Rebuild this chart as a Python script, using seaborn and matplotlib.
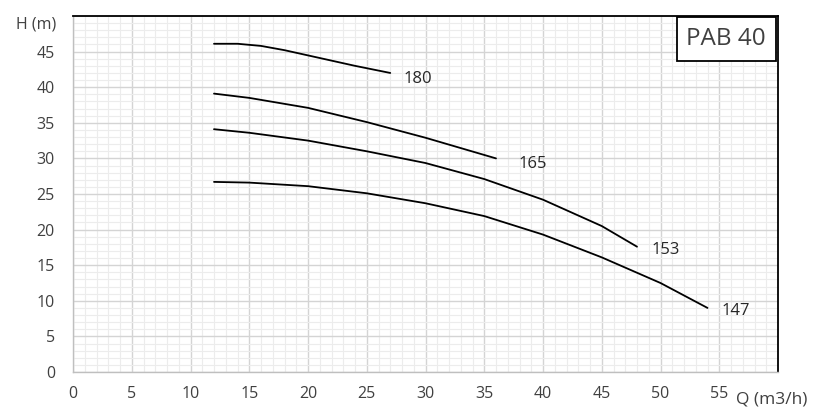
import pandas as pd
import matplotlib.pyplot as plt
import matplotlib.ticker as ticker
import seaborn as sns

# PAB 40 pump curves, H (m) vs Q (m3/h)
q_180 = [12, 14, 16, 18, 21, 24, 27]
h_180 = [46.1, 46.1, 45.8, 45.2, 44.1, 43.0, 42.0]

q_165 = [12, 15, 20, 25, 30, 36]
h_165 = [39.1, 38.5, 37.1, 35.1, 32.9, 30.0]

q_153 = [12, 15, 20, 25, 30, 35, 40, 45, 48]
h_153 = [34.1, 33.6, 32.5, 31.0, 29.35, 27.1, 24.2, 20.5, 17.6]

q_147 = [12, 15, 20, 25, 30, 35, 40, 45, 50, 54]
h_147 = [26.7, 26.6, 26.1, 25.1, 23.7, 21.9, 19.3, 16.1, 12.5, 9.0]

curve_names = ["180", "165", "153", "147"]
# where each curve label sits (Q, H)
label_q = [28.1, 37.9, 49.2, 55.2]
label_h = [41.2, 29.2, 17.2, 8.5]

x_ticks = list(range(0, 56, 5))
y_ticks = list(range(0, 46, 5))

frames = []
for name, q, h in zip(curve_names, [q_180, q_165, q_153, q_147],
                      [h_180, h_165, h_153, h_147]):
    frames.append(pd.DataFrame({"Q": q, "H": h, "curve": name}))
df = pd.concat(frames, ignore_index=True)

sns.set_style("white")
plt.rcParams["font.family"] = ["Open Sans", "DejaVu Sans"]

fig = plt.figure(figsize=(8.17, 4.07), dpi=100)
ax = fig.add_axes([73 / 817, 1 - 372 / 407, 705 / 817, 356 / 407])

sns.lineplot(data=df, x="Q", y="H", hue="curve",
             palette={n: "black" for n in curve_names},
             linewidth=1.3, legend=False, ax=ax, sort=False)

for name, lq, lh in zip(curve_names, label_q, label_h):
    ax.text(lq, lh, name, fontsize=12, color="#262626", ha="left", va="center")

ax.set_xlim(0, 60)
ax.set_ylim(0, 50)
ax.set_xticks(x_ticks)
ax.set_yticks(y_ticks)
ax.xaxis.set_minor_locator(ticker.MultipleLocator(1))
ax.yaxis.set_minor_locator(ticker.MultipleLocator(1))
ax.grid(which="major", color="#d4d4d4", linewidth=1.0)
ax.grid(which="minor", color="#ececec", linewidth=0.8)
ax.set_axisbelow(True)
ax.tick_params(which="both", length=0, labelsize=11.5, labelcolor="#404040")
ax.tick_params(axis="x", pad=10)
ax.tick_params(axis="y", pad=13)
ax.set_xlabel("")
ax.set_ylabel("")

for side in ["top", "right"]:
    ax.spines[side].set_color("black")
    ax.spines[side].set_linewidth(1.3)
for side in ["left", "bottom"]:
    ax.spines[side].set_color("#bfbfbf")
    ax.spines[side].set_linewidth(1.0)

ax.text(-0.024, 0.975, "H (m)", transform=ax.transAxes, ha="right",
        va="center", fontsize=11.5, color="#404040")
ax.text(0.94, -0.078, "Q (m3/h)", transform=ax.transAxes, ha="left",
        va="center", fontsize=12.5, color="#404040")

ax.text(0.983, 0.935, "PAB 40", transform=ax.transAxes, ha="right",
        va="center", fontsize=17.5, color="#404040",
        bbox=dict(boxstyle="square,pad=0.4", facecolor="white",
                  edgecolor="black", linewidth=1.3))

fig.savefig("out.png", dpi=100)
